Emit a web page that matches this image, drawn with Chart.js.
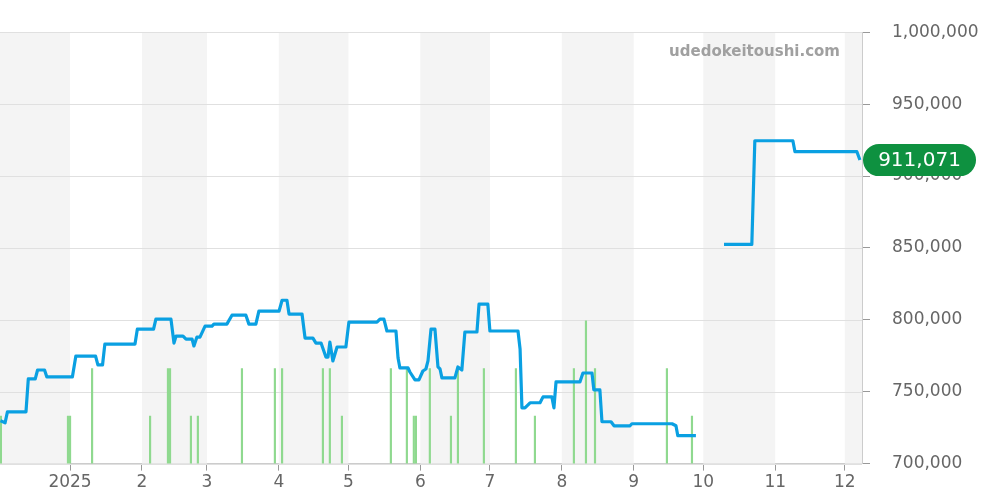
<!DOCTYPE html>
<html><head><meta charset="utf-8">
<script src="https://cdn.jsdelivr.net/npm/chart.js@4/dist/chart.umd.min.js"></script>
<style>html,body{margin:0;padding:0;background:#fff}#w{width:1000px;height:500px}</style>
</head><body><div id="w"><canvas id="c" width="1000" height="500"></canvas></div>
<script>
// x values are days since 2024-12-01
const priceDays = [1,3,4,12,13,16,17,20,21,32,33.5,42,43,45,46,59,60,67,68,74.5,75.8,76.7,79.7,81,83.6,84.4,85.7,87,89.2,92.2,93,98.6,100.8,106.8,108.1,111.1,112.4,121.1,122.4,124.5,125.4,131,132.3,135.7,137,139.2,141.3,142.2,143,144.3,146.1,149.9,151.2,163.3,164.6,166.3,167.6,171.5,172.4,173.2,176.7,177.5,179.7,181.4,183.1,184.4,185.3,186.6,188.3,189.6,190.5,191.3,196.9,198.2,199.9,201.2,206.4,207.3,211.1,212,224.1,225,225.8,227.1,229.3,233.6,234.9,238.7,239.6,240.5,250.8,252.1,256,256.8,259.4,260.3,264.2,265.5,272.4,273.2,290.5,292.2,293,300.8,306,312.9,324.9,326.2,342.6,343.5,370.2,371.5];
const priceVals = [729800,728400,736000,736000,758900,758900,765100,765100,760300,760300,774800,774800,768600,768600,783100,783100,793500,793500,800500,800500,783800,788700,788700,786600,786600,781800,788000,788000,795600,795600,797000,797000,803200,803200,797000,797000,806000,806000,813600,813600,804000,804000,787300,787300,783800,783800,774100,774100,784500,771400,781100,781100,798400,798400,800500,800500,792200,792200,773400,766500,766500,763700,758200,758200,764400,765800,771400,793500,793500,767200,765800,759600,759600,767200,765100,791500,791500,810900,810900,792200,792200,779700,738800,738800,742300,742300,746400,746400,738800,756800,756800,763000,763000,751300,751300,729100,729100,726300,726300,727700,727700,726300,719400,719400,null,852400,852400,924500,924500,916900,916900,911071];
const volDays = [1.2,30.1,31,40.5,65.5,73.2,74.1,83.1,86.1,105.1,119.3,122.4,140,143,148.2,169.3,176.2,179.2,180.1,186.1,195.2,198.2,209.4,223.2,231.4,248.2,253.4,257.3,288.3,299.1];
const volVals = [1,1,1,2,1,2,2,1,1,2,2,2,2,2,1,2,2,1,1,2,1,2,2,2,1,2,3,2,2,1];
const monthStarts = [31,62,90,121,151,182,212,243,274,304,335,365];
const monthLabels = ['2025','2','3','4','5','6','7','8','9','10','11','12'];
const shadeBands = [[0,31],[62,90],[121,151],[182,212],[243,274],[304,335],[365,400]];
const yTicks = [700000,750000,800000,850000,900000,950000,1000000];
const lastLabel = '911,071';

const xMin = 0.8, xMax = 372.4;
const bands = {id:'bands',beforeDatasetsDraw(ch){const a=ch.chartArea,x=ch.scales.x,c=ch.ctx;c.save();c.fillStyle='#f4f4f4';
 shadeBands.forEach(b=>{const l=Math.max(a.left,x.getPixelForValue(b[0])),r=Math.min(a.right,x.getPixelForValue(b[1]));if(r>l)c.fillRect(l,a.top,r-l,a.bottom-a.top);});
 c.strokeStyle='#e0e0e0';c.lineWidth=1;ch.scales.y.ticks.forEach(t=>{const yy=Math.round(ch.scales.y.getPixelForValue(t.value))+0.5;c.beginPath();c.moveTo(a.left,yy);c.lineTo(a.right,yy);c.stroke();});
 c.fillStyle='#a0a0a0';c.font='bold 15px "DejaVu Sans"';c.textAlign='right';c.textBaseline='middle';c.fillText('udedokeitoushi.com',840,52);c.restore();}};
const badge = {id:'badge',afterDraw(ch){const c=ch.ctx,y=ch.scales.y.getPixelForValue(911071);c.save();c.fillStyle='#0e9140';
 const l=863,r=976,h=32;c.beginPath();c.roundRect(l,y-h/2,r-l,h,16);c.fill();c.fillStyle='#fff';c.font='20px "DejaVu Sans"';c.textAlign='center';c.textBaseline='middle';c.fillText(lastLabel,(l+r)/2,y+1);c.restore();}};

new Chart(document.getElementById('c'),{
 data:{datasets:[
  {type:'line',data:priceDays.map((d,i)=>({x:d,y:priceVals[i]})),borderColor:'#0aa0e2',borderWidth:3.2,borderJoinStyle:'round',pointRadius:0,tension:0,spanGaps:false,yAxisID:'y',order:1},
  {type:'bar',data:volDays.map((d,i)=>({x:d,y:volVals[i]})),backgroundColor:'#8fd98f',barThickness:1.5,yAxisID:'y2',order:2}
 ]},
 options:{responsive:false,animation:false,devicePixelRatio:1,
  layout:{padding:{top:28,right:0,left:0,bottom:5}},
  plugins:{legend:{display:false},tooltip:{enabled:false}},
  scales:{
   x:{type:'linear',offset:false,min:xMin,max:xMax,afterBuildTicks(s){s.ticks=monthStarts.map(v=>({value:v}));},
      ticks:{autoSkip:false,maxRotation:0,color:'#666',font:{size:17,family:'DejaVu Sans'},padding:2,callback:(v)=>monthLabels[monthStarts.indexOf(v)]},
      grid:{drawOnChartArea:false,tickLength:7,color:'#999',offset:false},border:{color:'#ccc'}},
   y:{position:'right',min:700000,max:1000000,afterBuildTicks(s){s.ticks=yTicks.map(v=>({value:v}));},afterFit(s){s.width=138;},
      ticks:{color:'#666',font:{size:17,family:'DejaVu Sans'},padding:22,callback:v=>v.toLocaleString('en-US')},
      grid:{drawOnChartArea:false,tickLength:8,color:'#999'},border:{color:'#ccc'}},
   y2:{display:false,min:0,max:9.07}
  }},
 plugins:[bands,badge]});
</script></body></html>
